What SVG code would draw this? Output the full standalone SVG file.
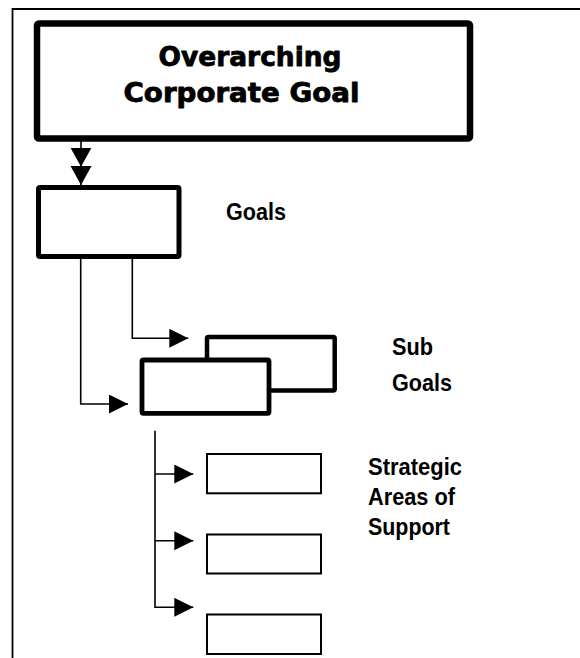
<svg xmlns="http://www.w3.org/2000/svg" width="580" height="658" viewBox="0 0 580 658">
  <defs>
    <style>
      .frame { fill: none; stroke: #000; stroke-width: 1.8; }
      .box { fill: #fff; stroke: #000; }
      .conn { fill: none; stroke: #000; stroke-width: 1.6; }
      .title { font-family: "DejaVu Sans", "Liberation Sans", sans-serif; font-weight: bold; font-size: 26.5px; fill: #000; stroke: #000; stroke-width: 0.8; stroke-linejoin: round; }
      .label { font-family: "Liberation Sans", Arial, sans-serif; font-weight: bold; font-size: 24px; fill: #000; }
    </style>
    <marker id="ah" markerUnits="userSpaceOnUse" markerWidth="20" markerHeight="20" refX="19" refY="9.5" orient="auto">
      <path d="M0,0 L19,9.5 L0,19 Z" fill="#000"/>
    </marker>
    <marker id="ahd" markerUnits="userSpaceOnUse" markerWidth="20" markerHeight="22" refX="19" refY="10.5" orient="auto">
      <path d="M0,0 L19,10.5 L0,21 Z" fill="#000"/>
    </marker>
  </defs>

  <rect width="580" height="658" fill="#fff"/>

  <g id="frame">
    <path class="frame" d="M580,9 H12.5 V658"/>
  </g>

  <g id="connectors">
    <polyline class="conn" points="81,128 81,166.7 81,185" marker-mid="url(#ahd)" marker-end="url(#ahd)"/>
    <path class="conn" d="M80.7,256 V404 H128" marker-end="url(#ah)"/>
    <path class="conn" d="M132.3,252 V338.3 H188.3" marker-end="url(#ah)"/>
    <path class="conn" d="M155,430.7 V607.3 H193.3" marker-end="url(#ah)"/>
    <path class="conn" d="M155,474 H193.3" marker-end="url(#ah)"/>
    <path class="conn" d="M155,540.7 H193.3" marker-end="url(#ah)"/>
  </g>

  <g id="corporate-goal">
    <rect class="box" x="37" y="23.5" width="433" height="115" rx="2" stroke-width="6.5"/>
    <text class="title" x="158.5" y="66" textLength="183" lengthAdjust="spacingAndGlyphs">Overarching</text>
    <text class="title" x="123.5" y="101.5" textLength="236" lengthAdjust="spacingAndGlyphs">Corporate Goal</text>
  </g>

  <g id="goals">
    <rect class="box" x="38.5" y="187.5" width="140.5" height="69" rx="1.5" stroke-width="5"/>
    <text class="label" x="226" y="220" textLength="60" lengthAdjust="spacingAndGlyphs">Goals</text>
  </g>

  <g id="sub-goals">
    <rect class="box" x="207" y="337" width="127.7" height="53.5" rx="1.5" stroke-width="4.5"/>
    <rect class="box" x="142" y="360" width="127" height="53.3" rx="1.5" stroke-width="4.8"/>
    <text class="label" x="392" y="355" textLength="41" lengthAdjust="spacingAndGlyphs">Sub</text>
    <text class="label" x="392" y="391" textLength="60" lengthAdjust="spacingAndGlyphs">Goals</text>
  </g>

  <g id="strategic-areas">
    <rect class="box" x="207" y="454" width="114" height="39.3" stroke-width="2"/>
    <rect class="box" x="207" y="534.5" width="114" height="39" stroke-width="2"/>
    <rect class="box" x="207" y="614.5" width="114" height="39.5" stroke-width="2"/>
    <text class="label" x="368" y="475" textLength="94" lengthAdjust="spacingAndGlyphs">Strategic</text>
    <text class="label" x="368" y="505" textLength="87" lengthAdjust="spacingAndGlyphs">Areas of</text>
    <text class="label" x="368" y="535" textLength="82" lengthAdjust="spacingAndGlyphs">Support</text>
  </g>
</svg>
